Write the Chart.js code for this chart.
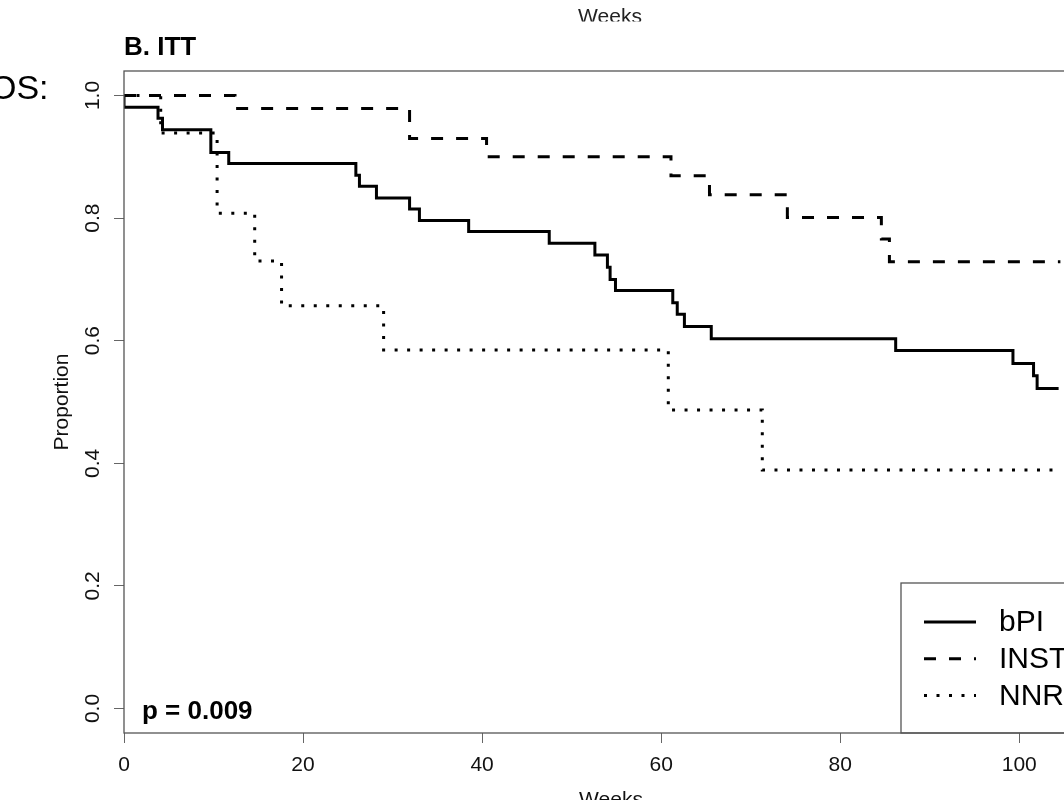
<!DOCTYPE html>
<html>
<head>
<meta charset="utf-8">
<title>B. ITT</title>
<script src="https://cdn.jsdelivr.net/npm/chart.js@4"></script>
<style>
  html, body { margin: 0; padding: 0; overflow: hidden; background: #fff; }
  #wrap { position: absolute; left: 0; top: 0; width: 1110px; height: 840px; }
</style>
</head>
<body>
<div id="wrap"><canvas id="kmChart" width="1110" height="840"></canvas></div>
<script>
// step times (weeks) and the proportion the curve drops to there
const bpiWeeks = [0, 0, 3.8, 4.3, 9.7, 11.7, 25.9, 26.3, 28.2, 31.9, 33.0, 38.5, 47.5, 52.6, 54.0, 54.3, 54.9, 61.3, 61.8, 62.6, 65.6, 86.2, 99.3, 101.6, 102.0, 104.4];
const bpiProp = [1.0, 0.981, 0.963, 0.944, 0.907, 0.889, 0.870, 0.852, 0.833, 0.815, 0.796, 0.778, 0.759, 0.740, 0.720, 0.700, 0.682, 0.662, 0.643, 0.623, 0.603, 0.584, 0.563, 0.543, 0.522, 0.522];
const instWeeks = [0, 12.4, 31.9, 40.5, 61.1, 65.4, 74.1, 84.6, 85.5, 104.6];
const instProp = [1.0, 0.979, 0.930, 0.900, 0.869, 0.838, 0.801, 0.766, 0.729, 0.729];
const nnrtiWeeks = [0, 4.1, 10.4, 14.6, 17.6, 29.0, 60.8, 71.3, 104.2];
const nnrtiProp = [1.0, 0.939, 0.808, 0.730, 0.657, 0.585, 0.487, 0.389, 0.389];

const groups = ["bPI", "INSTI", "NNRTI"];
const weekTicks = [0, 20, 40, 60, 80, 100];
const propTicks = [0, 0.2, 0.4, 0.6, 0.8, 1.0];
const pValueText = "p = 0.009";

const FONT = '"Liberation Sans", Arial, sans-serif';

function toPoints(xs, ys) {
  return xs.map((x, i) => ({ x: x, y: ys[i] }));
}

// R-ish extras: box round the plot, legend in the corner, p value, cut-off text
const rStyle = {
  id: "rStyle",
  afterDatasetsDraw(chart) {
    const { ctx, chartArea: a } = chart;
    ctx.save();

    ctx.strokeStyle = "#555";
    ctx.lineWidth = 1.3;
    ctx.strokeRect(a.left, a.top, a.right - a.left, a.bottom - a.top);

    // legend box, bottom right
    const boxW = 197, boxH = 150;
    const bx = a.right - boxW, by = a.bottom - boxH;
    ctx.strokeRect(bx, by, boxW, boxH);
    ctx.font = "30px " + FONT;
    ctx.fillStyle = "#000";
    ctx.textBaseline = "middle";
    ctx.textAlign = "left";
    chart.data.datasets.forEach((ds, i) => {
      const y = by + 39 + i * 36.7;
      ctx.setLineDash(ds.borderDash || []);
      ctx.lineWidth = 3;
      ctx.strokeStyle = "#000";
      ctx.beginPath();
      ctx.moveTo(bx + 23, y);
      ctx.lineTo(bx + 75, y);
      ctx.stroke();
      ctx.setLineDash([]);
      ctx.fillText(ds.label, bx + 98, y + 1);
    });

    ctx.font = "bold 26px " + FONT;
    ctx.textBaseline = "alphabetic";
    ctx.fillText(pValueText, a.left + 18, a.bottom - 14);
    ctx.restore();
  },
  afterDraw(chart) {
    const ctx = chart.ctx;
    ctx.save();
    ctx.fillStyle = "#000";
    ctx.textBaseline = "alphabetic";
    ctx.font = "34px " + FONT;
    ctx.fillText("OS:", -10, 99);
    // bottom of the previous panel's axis title, cut by the crop
    ctx.beginPath();
    ctx.rect(0, 0, chart.width, 21.5);
    ctx.clip();
    ctx.font = "21px " + FONT;
    ctx.fillStyle = "#222";
    ctx.textAlign = "center";
    ctx.fillText("Weeks", 610, 23);
    ctx.restore();
  }
};

const ctx = document.getElementById("kmChart").getContext("2d");

new Chart(ctx, {
  type: "line",
  data: {
    datasets: [
      {
        label: groups[0],
        data: toPoints(bpiWeeks, bpiProp),
        borderDash: []
      },
      {
        label: groups[1],
        data: toPoints(instWeeks, instProp),
        borderDash: [12, 13]
      },
      {
        label: groups[2],
        data: toPoints(nnrtiWeeks, nnrtiProp),
        borderDash: [3, 9.5]
      }
    ].map(ds => Object.assign(ds, {
      stepped: true,
      borderColor: "#000",
      borderWidth: 3,
      pointRadius: 0,
      fill: false
    }))
  },
  options: {
    responsive: false,
    animation: false,
    layout: { padding: { left: 0, top: 0, right: 12, bottom: 0 } },
    plugins: {
      legend: { display: false },
      tooltip: { enabled: false },
      title: {
        display: true,
        text: "B. ITT",
        align: "start",
        fullSize: false,
        color: "#000",
        font: { family: FONT, size: 26, weight: "bold", lineHeight: 1.2 },
        padding: { top: 32, bottom: 7.8 }
      }
    },
    scales: {
      x: {
        type: "linear",
        bounds: "data",
        min: 0,
        max: 108.8,
        afterBuildTicks: s => { s.ticks = weekTicks.map(v => ({ value: v })); },
        afterFit: s => { s.height = 107; },
        grid: { drawOnChartArea: false, drawTicks: true, tickLength: 10, color: "#666", lineWidth: 1 },
        border: { display: false },
        ticks: { color: "#111", font: { family: FONT, size: 21 }, padding: 10, maxRotation: 0, autoSkip: false },
        title: {
          display: true,
          text: "Weeks",
          color: "#111",
          font: { family: FONT, size: 21, lineHeight: 1.2 },
          padding: { top: 0, bottom: 27 }
        }
      },
      y: {
        type: "linear",
        bounds: "data",
        min: -0.04,
        max: 1.04,
        afterBuildTicks: s => { s.ticks = propTicks.map(v => ({ value: v })); },
        afterFit: s => { s.width = 124; },
        grid: { drawOnChartArea: false, drawTicks: true, tickLength: 10, color: "#666", lineWidth: 1 },
        border: { display: false },
        ticks: {
          color: "#111",
          font: { family: FONT, size: 21 },
          minRotation: 90,
          maxRotation: 90,
          crossAlign: "center",
          padding: 6,
          autoSkip: false,
          callback: v => Number(v).toFixed(1)
        },
        title: {
          display: true,
          text: "Proportion",
          color: "#111",
          font: { family: FONT, size: 21, lineHeight: 1.2 },
          padding: { top: 50, bottom: 0 }
        }
      }
    }
  },
  plugins: [rStyle]
});
</script>
</body>
</html>
